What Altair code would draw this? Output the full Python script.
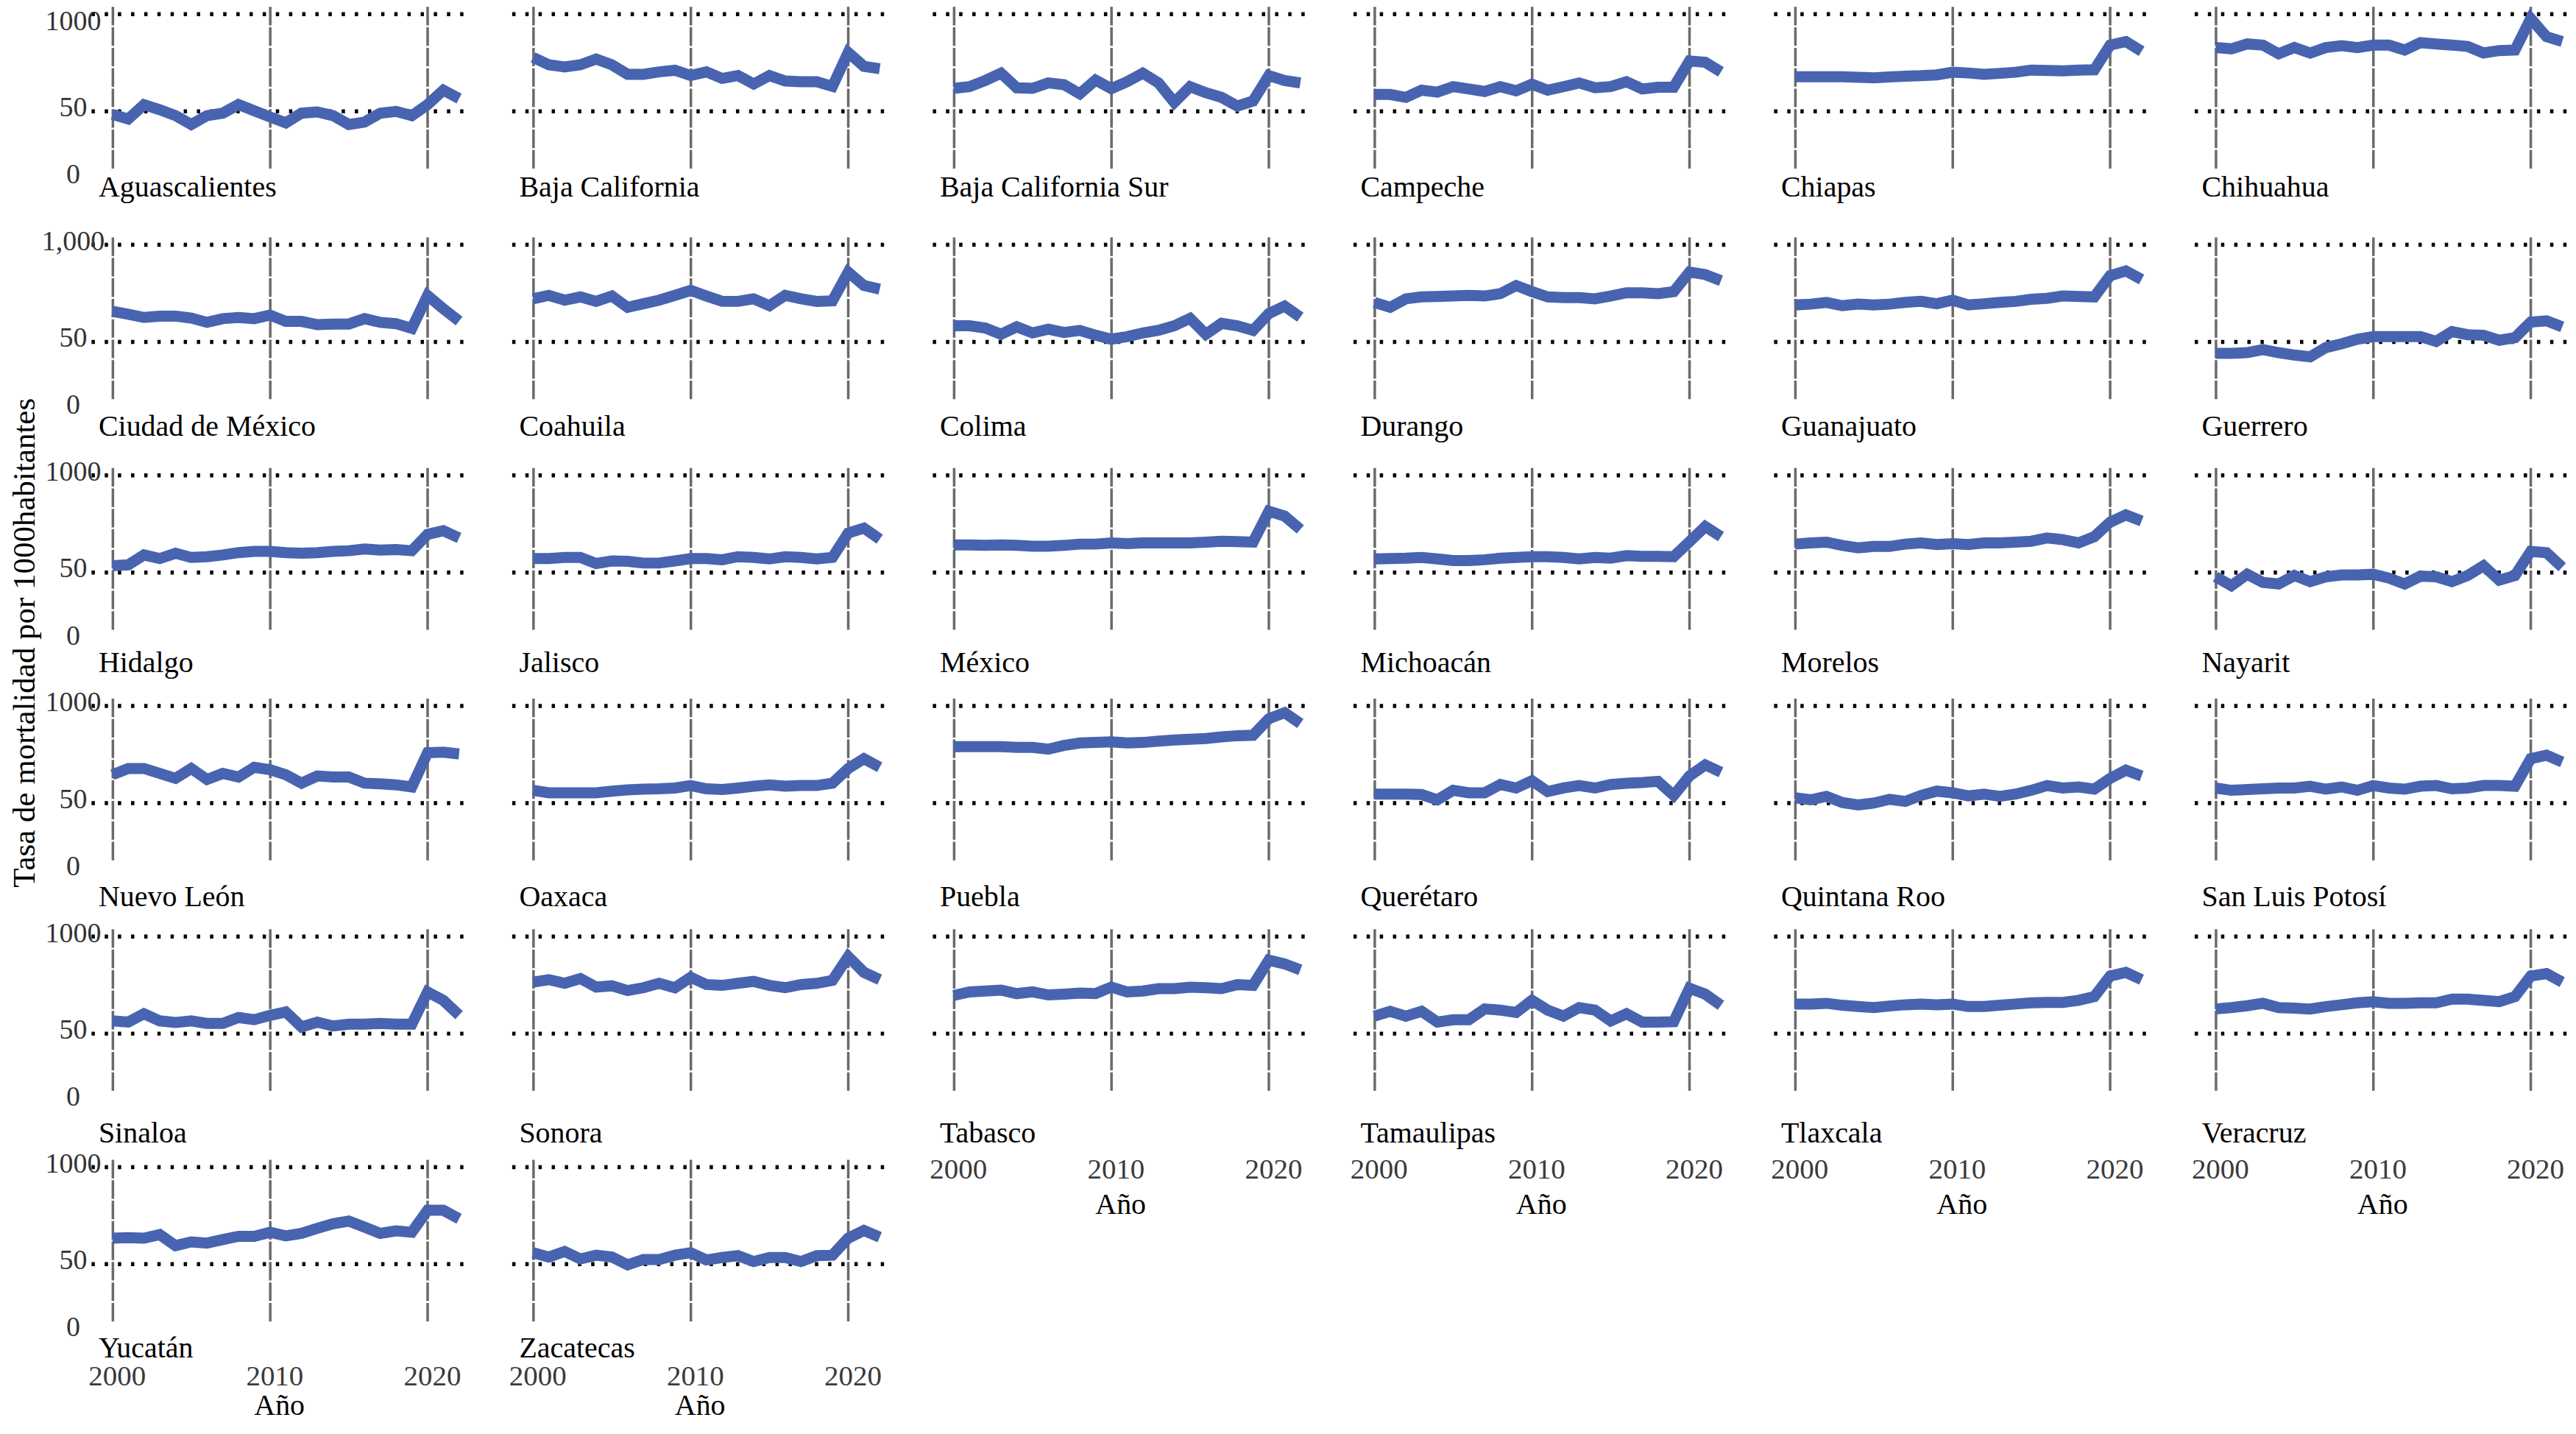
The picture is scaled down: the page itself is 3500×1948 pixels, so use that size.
import altair as alt
import pandas as pd

years = list(range(2000, 2023))

estados = [
    "Aguascalientes", "Baja California", "Baja California Sur", "Campeche", "Chiapas", "Chihuahua",
    "Ciudad de México", "Coahuila", "Colima", "Durango", "Guanajuato", "Guerrero",
    "Hidalgo", "Jalisco", "México", "Michoacán", "Morelos", "Nayarit",
    "Nuevo León", "Oaxaca", "Puebla", "Querétaro", "Quintana Roo", "San Luis Potosí",
    "Sinaloa", "Sonora", "Tabasco", "Tamaulipas", "Tlaxcala", "Veracruz",
    "Yucatán", "Zacatecas",
]

aguascalientes = [44, 37, 62, 52, 42, 30, 42, 46, 62, 50, 40, 32, 46, 48, 42, 30, 33, 46, 49, 42, 62, 100, 76]
baja_california = [276, 221, 207, 221, 263, 221, 165, 165, 178, 187, 159, 178, 145, 159, 122, 159, 134, 131, 131, 113, 321, 211, 196]
baja_california_sur = [106, 112, 136, 171, 108, 106, 126, 119, 89, 138, 105, 131, 171, 126, 67, 112, 92, 79, 59, 70, 159, 136, 126]
campeche = [87, 87, 79, 100, 94, 112, 104, 96, 112, 98, 121, 100, 112, 126, 108, 112, 131, 104, 110, 110, 248, 239, 178]
chiapas = [153, 153, 153, 153, 150, 148, 152, 156, 158, 162, 176, 172, 165, 170, 176, 188, 186, 184, 188, 190, 400, 445, 333]
chihuahua = [372, 358, 414, 400, 309, 372, 316, 372, 394, 372, 400, 400, 345, 430, 414, 400, 385, 316, 340, 345, 880, 514, 445]
cdmx = [135, 123, 111, 116, 116, 109, 95, 107, 111, 107, 120, 98, 98, 88, 90, 90, 107, 95, 91, 78, 220, 146, 99]
coahuila = [199, 221, 191, 211, 184, 217, 153, 171, 191, 221, 257, 217, 184, 184, 199, 161, 221, 199, 184, 187, 445, 298, 267]
colima = [85, 85, 79, 64, 82, 67, 76, 68, 73, 62, 54, 59, 67, 73, 85, 108, 64, 92, 85, 73, 126, 159, 112]
durango = [178, 153, 199, 211, 214, 217, 221, 217, 233, 298, 248, 211, 207, 207, 199, 217, 239, 239, 233, 248, 445, 414, 345]
guanajuato = [165, 169, 178, 161, 169, 165, 169, 178, 184, 171, 191, 165, 171, 178, 184, 196, 202, 217, 214, 211, 400, 461, 358]
guerrero = [32, 32, 33, 37, 33, 30, 28, 40, 46, 54, 59, 59, 59, 59, 50, 70, 63, 62, 52, 57, 96, 100, 82]
hidalgo = [62, 64, 89, 79, 94, 82, 84, 89, 96, 100, 100, 96, 94, 96, 100, 102, 108, 104, 106, 102, 171, 191, 153]
jalisco = [79, 79, 82, 82, 67, 73, 72, 68, 68, 73, 79, 79, 76, 84, 82, 78, 84, 82, 78, 82, 178, 207, 147]
mexico = [123, 123, 121, 123, 121, 118, 118, 121, 126, 126, 131, 128, 131, 131, 131, 131, 134, 138, 136, 134, 345, 298, 199]
michoacan = [78, 79, 80, 82, 78, 74, 74, 76, 80, 82, 84, 84, 82, 78, 82, 80, 87, 85, 85, 84, 136, 217, 159]
morelos = [126, 131, 134, 121, 112, 117, 117, 126, 131, 124, 128, 124, 131, 131, 134, 138, 153, 145, 131, 159, 248, 309, 257]
nayarit = [42, 30, 46, 34, 32, 44, 35, 42, 45, 45, 46, 40, 32, 43, 42, 35, 44, 62, 37, 44, 100, 96, 59]
nuevo_leon = [126, 153, 153, 131, 112, 153, 108, 131, 117, 159, 147, 126, 96, 121, 117, 117, 96, 94, 91, 85, 248, 252, 239]
oaxaca = [76, 70, 70, 70, 70, 74, 77, 79, 80, 82, 89, 80, 78, 82, 87, 91, 87, 89, 89, 96, 153, 207, 159]
puebla = [298, 298, 298, 298, 292, 292, 276, 309, 333, 338, 345, 333, 338, 352, 364, 372, 380, 400, 414, 420, 685, 819, 593]
queretaro = [67, 67, 67, 66, 55, 76, 70, 70, 92, 82, 104, 73, 82, 89, 82, 92, 96, 98, 102, 64, 121, 171, 136]
quintana_roo = [59, 55, 62, 50, 46, 49, 56, 52, 64, 74, 70, 63, 67, 62, 67, 76, 89, 82, 85, 79, 112, 145, 121]
san_luis_potosi = [82, 76, 78, 80, 82, 82, 87, 79, 85, 76, 89, 82, 79, 87, 89, 80, 82, 89, 89, 87, 207, 230, 187]
sinaloa = [76, 73, 96, 76, 72, 76, 70, 70, 85, 79, 91, 102, 62, 73, 64, 68, 68, 70, 68, 68, 191, 147, 92]
sonora = [257, 277, 248, 287, 221, 230, 199, 217, 248, 217, 298, 239, 233, 248, 263, 233, 217, 239, 248, 271, 552, 345, 277]
tabasco = [171, 191, 196, 202, 181, 191, 174, 178, 184, 181, 221, 191, 196, 211, 211, 221, 217, 211, 239, 233, 496, 445, 372]
tamaulipas = [89, 104, 89, 104, 73, 79, 79, 112, 108, 100, 147, 108, 89, 117, 108, 76, 96, 73, 73, 74, 214, 178, 126]
tlaxcala = [131, 131, 134, 126, 121, 117, 123, 128, 131, 128, 131, 121, 121, 126, 131, 136, 138, 138, 147, 165, 309, 345, 277]
veracruz = [112, 117, 124, 134, 117, 115, 112, 121, 128, 136, 141, 134, 134, 136, 136, 153, 153, 147, 141, 165, 309, 333, 257]
yucatan = [117, 119, 117, 131, 92, 104, 100, 112, 124, 124, 141, 126, 136, 159, 184, 199, 165, 136, 147, 141, 277, 277, 214]
zacatecas = [73, 63, 76, 59, 67, 63, 48, 58, 58, 67, 73, 57, 62, 66, 54, 62, 62, 54, 66, 67, 117, 149, 121]

series = [
    aguascalientes, baja_california, baja_california_sur, campeche, chiapas, chihuahua,
    cdmx, coahuila, colima, durango, guanajuato, guerrero,
    hidalgo, jalisco, mexico, michoacan, morelos, nayarit,
    nuevo_leon, oaxaca, puebla, queretaro, quintana_roo, san_luis_potosi,
    sinaloa, sonora, tabasco, tamaulipas, tlaxcala, veracruz,
    yucatan, zacatecas,
]

x_ticks = [2000, 2010, 2020]
y_ticks = [0, 50, 1000]

records = []
for nombre, vals in zip(estados, series):
    for anio, v in zip(years, vals):
        records.append({"estado": nombre, "anio": anio, "tasa": v})
df = pd.DataFrame(records)

FONT = "Liberation Serif"
LINE_COLOR = "#4864b0"
NCOL = 6
W, H = 511, 222

# vertical offset (top of name text below plot) per row
name_top = [4, 16, 24, 29, 37, 15]
bottom_panels = set(range(26, 32))

xscale = alt.Scale(domain=[1998.65, 2022.5], nice=False, zero=False)
yscale = alt.Scale(type="symlog", constant=11, domain=[0, 1250], nice=False)


def make_panel(i):
    nombre = estados[i]
    r, c = divmod(i, NCOL)
    common_x = dict(
        values=x_ticks, format="d", grid=True, gridColor="#6a6a6a", gridWidth=3.5,
        gridDash=[25.2, 2.6], domain=False, ticks=False, tickSize=0,
        labelFlush=False, labelOverlap=False,
    )
    if i in bottom_panels:
        if r == 4:
            lp, tp = 86, 8
        else:
            lp, tp = 54, 0
        axis_bottom = lp + 39 + tp + 40
        xaxis = alt.Axis(
            labels=True, labelPadding=lp, labelFont=FONT, labelFontSize=39,
            labelColor="#3a3a3a", labelOffset=6, title="Año", titlePadding=tp,
            titleFont=FONT, titleFontSize=40, titleFontWeight="normal",
            titleColor="black", **common_x,
        )
        offset = name_top[r] - axis_bottom
    else:
        xaxis = alt.Axis(labels=False, title=None, **common_x)
        offset = name_top[r] - (26 if c == 0 else 0)

    common_y = dict(
        values=y_ticks, grid=True, gridColor="black", gridWidth=5.5,
        gridDash=[4.5, 13.4],
        gridOpacity={"condition": {"test": "datum.value === 0", "value": 0}, "value": 1},
        domain=False, ticks=False, tickSize=0, title=None,
    )
    if c == 0:
        if r == 0:
            label_offset = {
                "condition": [
                    {"test": "datum.value === 0", "value": 7},
                    {"test": "datum.value === 50", "value": -4},
                ],
                "value": 10.5,
            }
        else:
            label_offset = {"condition": {"test": "datum.value === 0", "value": 7}, "value": -4}
        yaxis = alt.Axis(
            labels=True, format=(",d" if r == 1 else "d"), labelAlign="center",
            labelBaseline="middle", labelPadding=25, labelFont=FONT, labelFontSize=38,
            labelColor="#333333", labelFlush=False, labelOverlap=False,
            labelOffset=label_offset, **common_y,
        )
    else:
        yaxis = alt.Axis(labels=False, **common_y)

    title = alt.TitleParams(
        text=nombre, orient="bottom", anchor="start", frame="group", dx=10,
        offset=offset, font=FONT, fontSize=40, fontWeight="normal", color="black",
        baseline="top",
    )

    return (
        alt.Chart(df)
        .transform_filter(alt.datum.estado == nombre)
        .mark_line(color=LINE_COLOR, strokeWidth=15, clip=True)
        .encode(
            x=alt.X("anio:Q", scale=xscale, axis=xaxis),
            y=alt.Y("tasa:Q", scale=yscale, axis=yaxis),
        )
        .properties(width=W, height=H, title=title)
    )


panels = [make_panel(i) for i in range(len(estados))]

chart = (
    alt.concat(
        *panels,
        columns=NCOL,
        spacing={"row": 91.5, "column": 61},
        bounds="flush",
        padding={"left": 5, "top": 0, "right": 0, "bottom": 0},
        title=alt.TitleParams(
            text="Tasa de mortalidad por 1000habitantes", orient="left", anchor="middle",
            frame="bounds", offset=-43, dx=96, font=FONT, fontSize=43,
            fontWeight="normal", color="black", baseline="bottom",
        ),
    )
    .configure(background="white")
    .configure_view(stroke=None)
)

chart.save("out.html", embed_options={"renderer": "svg", "actions": False})
